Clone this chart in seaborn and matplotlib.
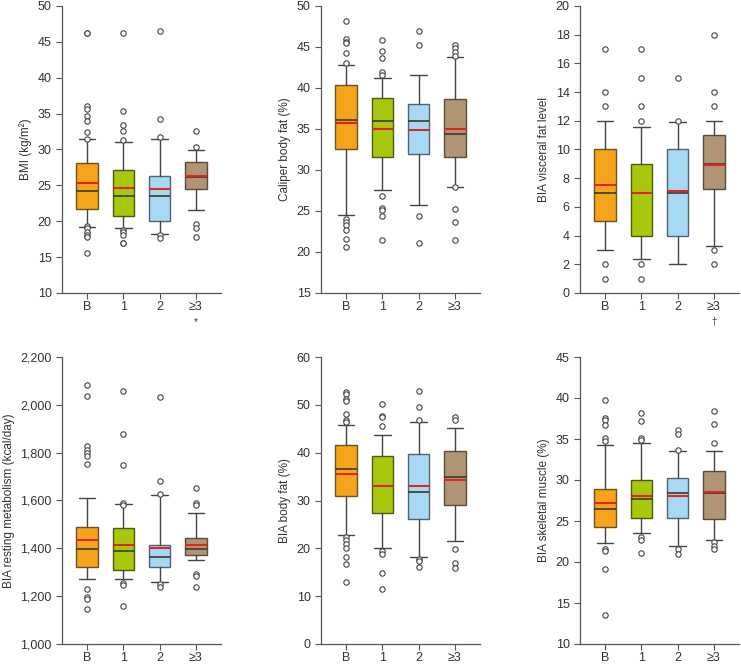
import matplotlib
matplotlib.use("Agg")
import matplotlib.pyplot as plt
import matplotlib.ticker as mticker
import seaborn as sns
import numpy as np

categories = ["B", "1", "2", "≥3"]
box_colors = ["#F5A41B", "#A9C70C", "#A7D9F4", "#B09473"]
edge_colors = ["#6B5223", "#4E5A14", "#4F6470", "#5A4C3C"]

# ---- BMI ----
bmi_whislo = [19.2, 19.0, 18.2, 21.5]
bmi_q1 = [21.7, 20.8, 20.0, 24.5]
bmi_med = [24.25, 23.55, 23.5, 26.2]
bmi_q3 = [28.05, 27.2, 26.3, 28.3]
bmi_whishi = [31.5, 31.1, 31.5, 29.95]
bmi_mean = [25.27, 24.57, 24.48, 26.3]
bmi_fliers = [[46.3, 46.2, 36.1, 35.7, 34.6, 34.0, 32.4, 31.4, 19.4, 19.05, 18.5, 18.1, 17.75, 15.6],
              [46.3, 35.4, 33.4, 32.6, 31.3, 18.8, 18.5, 18.1, 17.0, 16.9],
              [46.5, 34.2, 31.7, 18.1, 17.6],
              [32.6, 30.4, 19.65, 19.0, 17.8]]

# ---- Caliper body fat ----
cal_whislo = [24.5, 27.55, 25.7, 27.9]
cal_q1 = [32.6, 31.55, 31.9, 31.6]
cal_med = [36.05, 35.95, 35.95, 34.33]
cal_q3 = [40.35, 38.8, 38.1, 38.6]
cal_whishi = [42.8, 41.27, 41.64, 43.75]
cal_mean = [35.73, 35.05, 34.86, 35.02]
cal_fliers = [[48.2, 46.0, 45.65, 45.5, 44.3, 43.0, 24.0, 23.7, 23.3, 22.7, 21.6, 20.55],
              [45.9, 44.5, 43.7, 42.0, 41.6, 26.8, 25.35, 25.15, 24.4, 21.5],
              [47.0, 45.3, 24.4, 21.05],
              [45.2, 44.9, 44.36, 43.9, 27.9, 25.27, 23.65, 21.5]]

# ---- BIA visceral fat level ----
vis_whislo = [3.0, 2.4, 2.0, 3.3]
vis_q1 = [5.0, 4.0, 4.0, 7.24]
vis_med = [7.0, 6.95, 7.0, 9.0]
vis_q3 = [10.0, 9.0, 10.0, 11.0]
vis_whishi = [12.0, 11.6, 11.9, 12.0]
vis_mean = [7.5, 6.97, 7.12, 8.95]
vis_fliers = [[17, 14, 13, 2, 1],
              [17, 15, 13, 12, 2, 1],
              [15, 12],
              [18, 14, 13, 3, 2]]

# ---- BIA resting metabolism ----
rmr_whislo = [1271, 1271, 1258, 1352]
rmr_q1 = [1320, 1309, 1320, 1372]
rmr_med = [1397, 1388, 1363, 1397]
rmr_q3 = [1489, 1483, 1415, 1443]
rmr_whishi = [1612, 1585, 1624, 1548]
rmr_mean = [1433, 1415, 1400, 1412]
rmr_fliers = [[2084, 2037, 1827, 1810, 1799, 1788, 1754, 1232, 1198, 1187, 1148],
              [2056, 1876, 1747, 1590, 1583, 1254, 1245, 1159],
              [2031, 1682, 1627, 1250, 1240],
              [1654, 1591, 1580, 1292, 1284, 1240]]

# ---- BIA body fat ----
bf_whislo = [22.7, 20.05, 18.1, 21.5]
bf_q1 = [30.95, 27.46, 26.2, 29.1]
bf_med = [36.6, 33.0, 31.86, 34.86]
bf_q3 = [41.7, 39.4, 39.75, 40.4]
bf_whishi = [45.7, 43.7, 46.5, 45.1]
bf_mean = [35.6, 32.97, 32.97, 34.2]
bf_fliers = [[52.7, 52.2, 51.3, 50.9, 48.1, 46.9, 46.4, 22.4, 21.8, 21.0, 20.1, 18.2, 16.8, 12.9],
             [50.1, 47.6, 47.36, 45.6, 19.4, 18.9, 14.8, 11.5],
             [52.8, 49.5, 46.9, 17.8, 17.3, 16.1],
             [47.5, 46.9, 19.8, 17.0, 15.8]]

# ---- BIA skeletal muscle ----
sm_whislo = [22.3, 23.5, 21.94, 22.7]
sm_q1 = [24.26, 25.32, 25.36, 25.28]
sm_med = [26.42, 27.68, 28.37, 28.37]
sm_q3 = [28.86, 29.96, 30.2, 31.06]
sm_whishi = [34.28, 34.49, 33.55, 33.5]
sm_mean = [27.19, 28.09, 28.0, 28.5]
sm_fliers = [[39.74, 37.54, 37.26, 36.65, 35.14, 34.7, 21.57, 21.33, 19.2, 13.58],
             [38.15, 37.14, 35.18, 34.85, 23.1, 22.7, 21.1],
             [36.08, 35.67, 33.71, 21.6, 21.0],
             [38.4, 36.8, 34.53, 22.4, 21.9, 21.6]]

panels = [
    ("BMI (kg/m²)", bmi_whislo, bmi_q1, bmi_med, bmi_q3, bmi_whishi, bmi_mean, bmi_fliers, (10, 50), 5, "*"),
    ("Caliper body fat (%)", cal_whislo, cal_q1, cal_med, cal_q3, cal_whishi, cal_mean, cal_fliers, (15, 50), 5, None),
    ("BIA visceral fat level", vis_whislo, vis_q1, vis_med, vis_q3, vis_whishi, vis_mean, vis_fliers, (0, 20), 2, "†"),
    ("BIA resting metabolism (kcal/day)", rmr_whislo, rmr_q1, rmr_med, rmr_q3, rmr_whishi, rmr_mean, rmr_fliers, (1000, 2200), 200, None),
    ("BIA body fat (%)", bf_whislo, bf_q1, bf_med, bf_q3, bf_whishi, bf_mean, bf_fliers, (0, 60), 10, None),
    ("BIA skeletal muscle (%)", sm_whislo, sm_q1, sm_med, sm_q3, sm_whishi, sm_mean, sm_fliers, (10, 45), 5, None),
]

sns.set_style("ticks")
plt.rcParams["font.family"] = ["Liberation Sans", "DejaVu Sans"]
plt.rcParams["axes.edgecolor"] = "#555555"
plt.rcParams["xtick.color"] = "#555555"
plt.rcParams["ytick.color"] = "#555555"
plt.rcParams["xtick.labelcolor"] = "#333333"
plt.rcParams["ytick.labelcolor"] = "#333333"

W, H = 741, 664
fig = plt.figure(figsize=(W / 100, H / 100), dpi=100)

lefts = [62, 321, 580]
tops = [6, 357]
ax_w = 159
ax_h = 287

for i, (ylabel, wlo, q1, med, q3, whi, mean, fliers, ylim, step, mark) in enumerate(panels):
    r, c = divmod(i, 3)
    left = lefts[c] / W
    bottom = 1 - (tops[r] + ax_h) / H
    ax = fig.add_axes([left, bottom, ax_w / W, ax_h / H])
    stats = []
    for k in range(4):
        stats.append(dict(whislo=wlo[k], q1=q1[k], med=med[k], q3=q3[k],
                          whishi=whi[k], mean=mean[k], fliers=[], label=categories[k]))
    arts = ax.bxp(stats, positions=range(4), widths=0.6, patch_artist=True,
                  showmeans=True, meanline=True, showfliers=False, capwidths=0.45,
                  medianprops=dict(color="#3E3A2A", linewidth=1.2),
                  meanprops=dict(color="#E0251E", linewidth=1.5, linestyle="-"),
                  whiskerprops=dict(color="#444444", linewidth=1.0),
                  capprops=dict(color="#444444", linewidth=1.0))
    for k, patch in enumerate(arts["boxes"]):
        patch.set_facecolor(box_colors[k])
        patch.set_edgecolor(edge_colors[k])
        patch.set_linewidth(1.0)
    # outliers
    fx, fy = [], []
    for k in range(4):
        fx += [k] * len(fliers[k])
        fy += list(fliers[k])
    sns.scatterplot(x=fx, y=fy, ax=ax, marker="o", s=15, facecolor="white",
                    edgecolor="#444444", linewidth=0.8, zorder=5)
    ax.set_xlim(-0.7, 3.7)
    ax.set_ylim(*ylim)
    ax.set_yticks(np.arange(ylim[0], ylim[1] + step / 2, step))
    if ylim[1] >= 1000:
        ax.yaxis.set_major_formatter(mticker.FuncFormatter(lambda v, p: f"{int(v):,}"))
    ax.set_xticks(range(4))
    ax.set_xticklabels(categories)
    ax.set_ylabel(ylabel, fontsize=8.5, color="#333333")
    ax.tick_params(axis="both", labelsize=9, length=4, width=0.8)
    ax.tick_params(axis="x", pad=2)
    sns.despine(ax=ax)
    for sp in ["left", "bottom"]:
        ax.spines[sp].set_linewidth(0.9)
    if mark:
        ax.annotate(mark, xy=(3, 0), xycoords=("data", "axes fraction"),
                    xytext=(0, -21), textcoords="offset points",
                    ha="center", va="center", fontsize=7, color="#333333")

fig.savefig("out.png", dpi=100)
